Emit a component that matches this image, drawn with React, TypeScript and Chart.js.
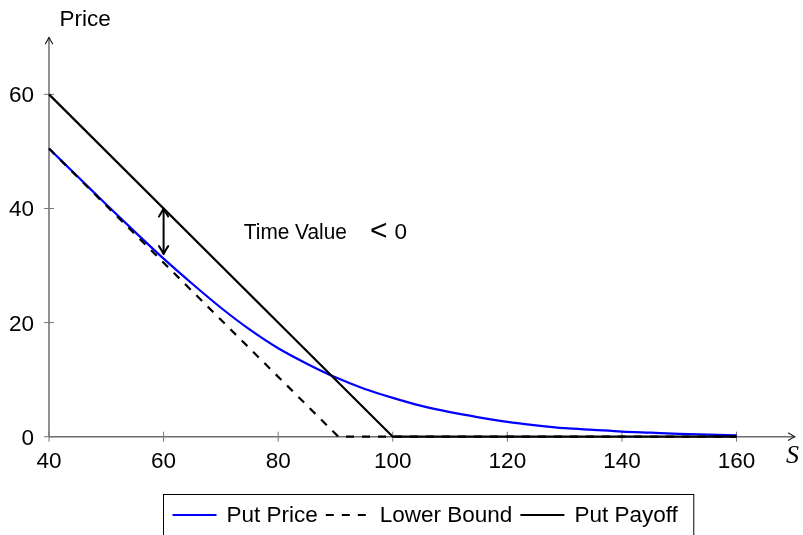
import React, { useEffect, useRef } from "react";
import { Chart, registerables } from "chart.js";

Chart.register(...registerables);

// ---- data ----
const priceS = [40, 45, 50, 55, 60, 65, 70, 75, 80, 85, 90, 95, 100, 105, 110, 115, 120, 125, 130, 135, 140, 145, 150, 155, 160];
const putPrice = [50.5, 45.6, 40.7, 35.9, 31.2, 26.8, 22.6, 18.8, 15.5, 12.8, 10.4, 8.4, 6.8, 5.4, 4.3, 3.4, 2.6, 2.0, 1.5, 1.2, 0.9, 0.7, 0.5, 0.35, 0.25];
const boundS = [40, 90.5, 160];
const lowerBound = [50.5, 0, 0];
const payoffS = [40, 100, 160];
const putPayoff = [60, 0, 0];

const xTicks = [40, 60, 80, 100, 120, 140, 160];
const yTicks = [0, 20, 40, 60];
const xRange = [40, 170.2];
const yRange = [0, 70];

const seriesLabels = ["Put Price", "Lower Bound", "Put Payoff"];
const axisTitles = ["S", "Price"];

const arrowS = 60;
const arrowEnds = [40, 32];
const notePos = [74, 34.6];
const noteParts = ["Time Value", "<", "0"];

const FONT = "'Liberation Sans', Arial, sans-serif";

function head(ctx: CanvasRenderingContext2D, tx: number, ty: number, angle: number, len: number, half: number, lw: number, color: string) {
  ctx.save();
  ctx.translate(tx, ty);
  ctx.rotate(angle);
  ctx.beginPath();
  ctx.moveTo(-len, -half);
  ctx.quadraticCurveTo(-len * 0.35, -half * 0.25, 0, 0);
  ctx.quadraticCurveTo(-len * 0.35, half * 0.25, -len, half);
  ctx.strokeStyle = color;
  ctx.lineWidth = lw;
  ctx.lineCap = "round";
  ctx.lineJoin = "round";
  ctx.stroke();
  ctx.restore();
}

const overlay = {
  id: "overlay",
  beforeDatasetsDraw(chart: any) {
    const { ctx, chartArea: a, scales } = chart;
    const xs = scales.x, ys = scales.y;
    const x0 = xs.getPixelForValue(xRange[0]);
    const y0 = ys.getPixelForValue(yRange[0]);
    ctx.save();
    ctx.strokeStyle = "#6e6e6e";
    ctx.lineWidth = 1.5;
    ctx.beginPath();
    ctx.moveTo(x0, y0);
    ctx.lineTo(a.right - 0.5, y0);
    ctx.moveTo(x0, y0);
    ctx.lineTo(x0, a.top + 0.5);
    ctx.stroke();
    head(ctx, a.right, y0, 0, 6.5, 3.6, 1.2, "#222");
    head(ctx, x0, a.top, -Math.PI / 2, 6.5, 3.6, 1.2, "#222");
    // ticks
    ctx.strokeStyle = "#777";
    ctx.lineWidth = 1;
    ctx.beginPath();
    for (const t of xTicks) {
      const px = xs.getPixelForValue(t);
      ctx.moveTo(px, y0 - 5);
      ctx.lineTo(px, y0 + 5);
    }
    for (const t of yTicks) {
      const py = ys.getPixelForValue(t);
      ctx.moveTo(x0 - 5, py);
      ctx.lineTo(x0 + 5, py);
    }
    ctx.stroke();
    ctx.restore();
  },
  afterDraw(chart: any) {
    const { ctx, chartArea: a, scales } = chart;
    const xs = scales.x, ys = scales.y;
    const x0 = xs.getPixelForValue(xRange[0]);
    const y0 = ys.getPixelForValue(yRange[0]);
    ctx.save();
    ctx.fillStyle = "#000";
    ctx.font = `22.5px ${FONT}`;
    ctx.textBaseline = "alphabetic";
    // x tick labels
    ctx.textAlign = "center";
    for (const t of xTicks) {
      ctx.fillText(String(t), xs.getPixelForValue(t), y0 + 31.6);
    }
    // y tick labels
    ctx.textAlign = "right";
    for (const t of yTicks) {
      ctx.fillText(String(t), x0 - 15, ys.getPixelForValue(t) + 8);
    }
    // axis titles
    ctx.textAlign = "left";
    ctx.fillText(axisTitles[1], x0 + 10.5, a.top - 11.3);
    ctx.font = `italic 26px 'Liberation Serif', serif`;
    ctx.fillText(axisTitles[0], a.right - 9, y0 + 26.3);

    // double arrow
    const ax = xs.getPixelForValue(arrowS);
    const ay1 = ys.getPixelForValue(arrowEnds[0]);
    const ay2 = ys.getPixelForValue(arrowEnds[1]);
    ctx.strokeStyle = "#000";
    ctx.lineWidth = 2;
    ctx.beginPath();
    ctx.moveTo(ax, ay1 + 1);
    ctx.lineTo(ax, ay2 - 1);
    ctx.stroke();
    head(ctx, ax, ay1, -Math.PI / 2, 8, 4.6, 2, "#000");
    head(ctx, ax, ay2, Math.PI / 2, 8, 4.6, 2, "#000");

    // note text
    const nx = xs.getPixelForValue(notePos[0]);
    const ny = ys.getPixelForValue(notePos[1]);
    ctx.font = `22.5px ${FONT}`;
    ctx.textAlign = "left";
    ctx.fillText(noteParts[0], nx, ny, 103);
    ctx.textAlign = "center";
    ctx.font = `30px ${FONT}`;
    ctx.fillText(noteParts[1], nx + 135, ny + 1);
    ctx.font = `22.5px ${FONT}`;
    ctx.fillText(noteParts[2], nx + 157, ny);

    // legend
    const ds = chart.data.datasets;
    ctx.font = `22.5px ${FONT}`;
    const widths = seriesLabels.map((l) => ctx.measureText(l).width);
    const pad = 9, sample = 44, gapST = 10, gapTS = 8, padR = 16;
    const total = pad + 3 * sample + 3 * gapST + widths.reduce((s, w) => s + w, 0) + 2 * gapTS + padR;
    const left = Math.round((a.left + a.right) / 2 + 6 - total / 2) + 0.5;
    const top = Math.round(a.bottom + 57.3) + 0.5;
    ctx.strokeStyle = "#000";
    ctx.lineWidth = 1;
    ctx.strokeRect(left, top, total, 60);
    let cx = left + pad;
    const ly = top + 20.5;
    const ty = top + 27;
    ctx.textAlign = "left";
    for (let i = 0; i < seriesLabels.length; i++) {
      const d = ds[i];
      ctx.save();
      ctx.strokeStyle = d.borderColor;
      ctx.lineWidth = d.borderWidth;
      ctx.setLineDash(d.borderDash || []);
      ctx.beginPath();
      ctx.moveTo(cx, ly);
      ctx.lineTo(cx + sample, ly);
      ctx.stroke();
      ctx.restore();
      cx += sample + gapST;
      ctx.fillStyle = "#000";
      ctx.fillText(seriesLabels[i], cx, ty);
      cx += widths[i] + gapTS;
    }
    ctx.restore();
  },
};

export default function App() {
  const ref = useRef<HTMLCanvasElement | null>(null);
  useEffect(() => {
    if (!ref.current) return;
    const chart = new Chart(ref.current, {
      type: "line",
      data: {
        datasets: [
          {
            label: seriesLabels[0],
            data: priceS.map((s, i) => ({ x: s, y: putPrice[i] })),
            borderColor: "#0000ff",
            borderWidth: 2.2,
            pointRadius: 0,
            cubicInterpolationMode: "monotone",
            clip: false as any,
            order: 3,
          },
          {
            label: seriesLabels[1],
            data: boundS.map((s, i) => ({ x: s, y: lowerBound[i] })),
            borderColor: "#000000",
            borderWidth: 2.2,
            borderDash: [8, 8],
            pointRadius: 0,
            tension: 0,
            clip: false as any,
            order: 2,
          },
          {
            label: seriesLabels[2],
            data: payoffS.map((s, i) => ({ x: s, y: putPayoff[i] })),
            borderColor: "#000000",
            borderWidth: 2.2,
            pointRadius: 0,
            tension: 0,
            clip: false as any,
            order: 1,
          },
        ],
      },
      options: {
        responsive: false,
        animation: false,
        devicePixelRatio: 1,
        layout: { padding: { left: 49, right: 8, top: 37.3, bottom: 98.3 } },
        scales: {
          x: { type: "linear", min: xRange[0], max: xRange[1], display: false },
          y: { type: "linear", min: yRange[0], max: yRange[1], display: false },
        },
        plugins: { legend: { display: false }, tooltip: { enabled: false } },
        events: [],
      },
      plugins: [overlay],
    } as any);
    return () => chart.destroy();
  }, []);
  return (
    <canvas
      ref={ref}
      width={803}
      height={535}
      style={{ position: "absolute", left: 0, top: 0, display: "block", background: "#fff" }}
    />
  );
}
